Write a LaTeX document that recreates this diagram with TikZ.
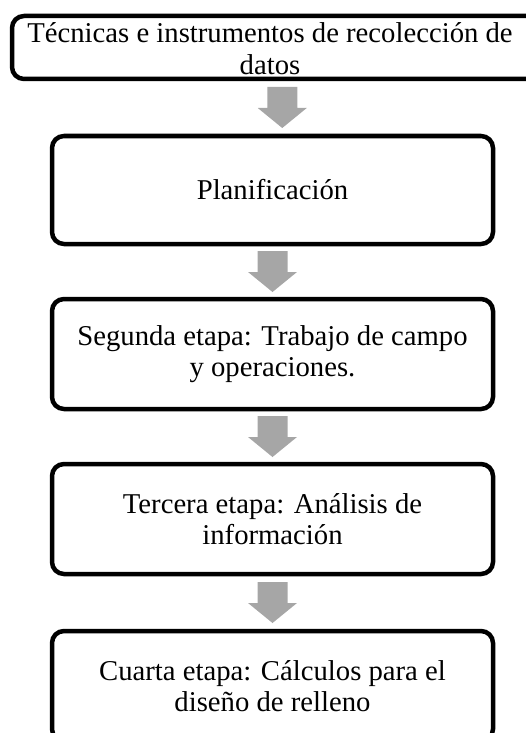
\documentclass[tikz,border=0pt]{standalone}
\usepackage{fontspec}
\setmainfont{Liberation Serif}
\usetikzlibrary{calc}
\definecolor{arrowgray}{RGB}{166,166,166}
\tikzset{
  stagebox/.style={draw=black, line width=4.5pt, rounded corners=12pt, fill=white,
    outer sep=0pt, inner sep=0pt, align=center, minimum width=441pt, minimum height=110pt,
    font=\fontsize{28.7}{31.5}\selectfont},
  stagetext/.style={inner sep=0pt, align=center, font=\fontsize{28.7}{31.5}\selectfont},
}
\newcommand{\blockarrow}[2]{%
  \coordinate (m#1#2) at ($(#1.south)!0.5!(#2.north)$);
  \fill[arrowgray] ($(m#1#2)+(-15,-20.5)$) -- ($(m#1#2)+(15,-20.5)$) -- ($(m#1#2)+(15,0.5)$)
    -- ($(m#1#2)+(24.5,0.5)$) -- ($(m#1#2)+(0,20.5)$) -- ($(m#1#2)+(-24.5,0.5)$)
    -- ($(m#1#2)+(-15,0.5)$) -- cycle;}
\begin{document}
\begin{tikzpicture}[x=1pt,y=-1pt]
\useasboundingbox (0,0) rectangle (526,733);
\node[stagebox, minimum width=560pt, minimum height=63pt] (b1) at (292,47.5) {};
\node[stagetext] (t1) at (270,48.5) {Técnicas e instrumentos de recolección de\\datos};
\node[stagebox, minimum height=108pt] (b2) at (272.5,190) {Planificación};
\node[stagebox] (b3) at (272.5,354) {Segunda etapa: Trabajo de campo\\y operaciones.};
\node[stagebox] (b4) at (272.5,519) {Tercera etapa: Análisis de\\información};
\node[stagebox] (b5) at (272.5,686) {Cuarta etapa: Cálculos para el\\diseño de relleno};
\blockarrow{b1}{b2}
\blockarrow{b2}{b3}
\blockarrow{b3}{b4}
\blockarrow{b4}{b5}
\end{tikzpicture}
\end{document}
